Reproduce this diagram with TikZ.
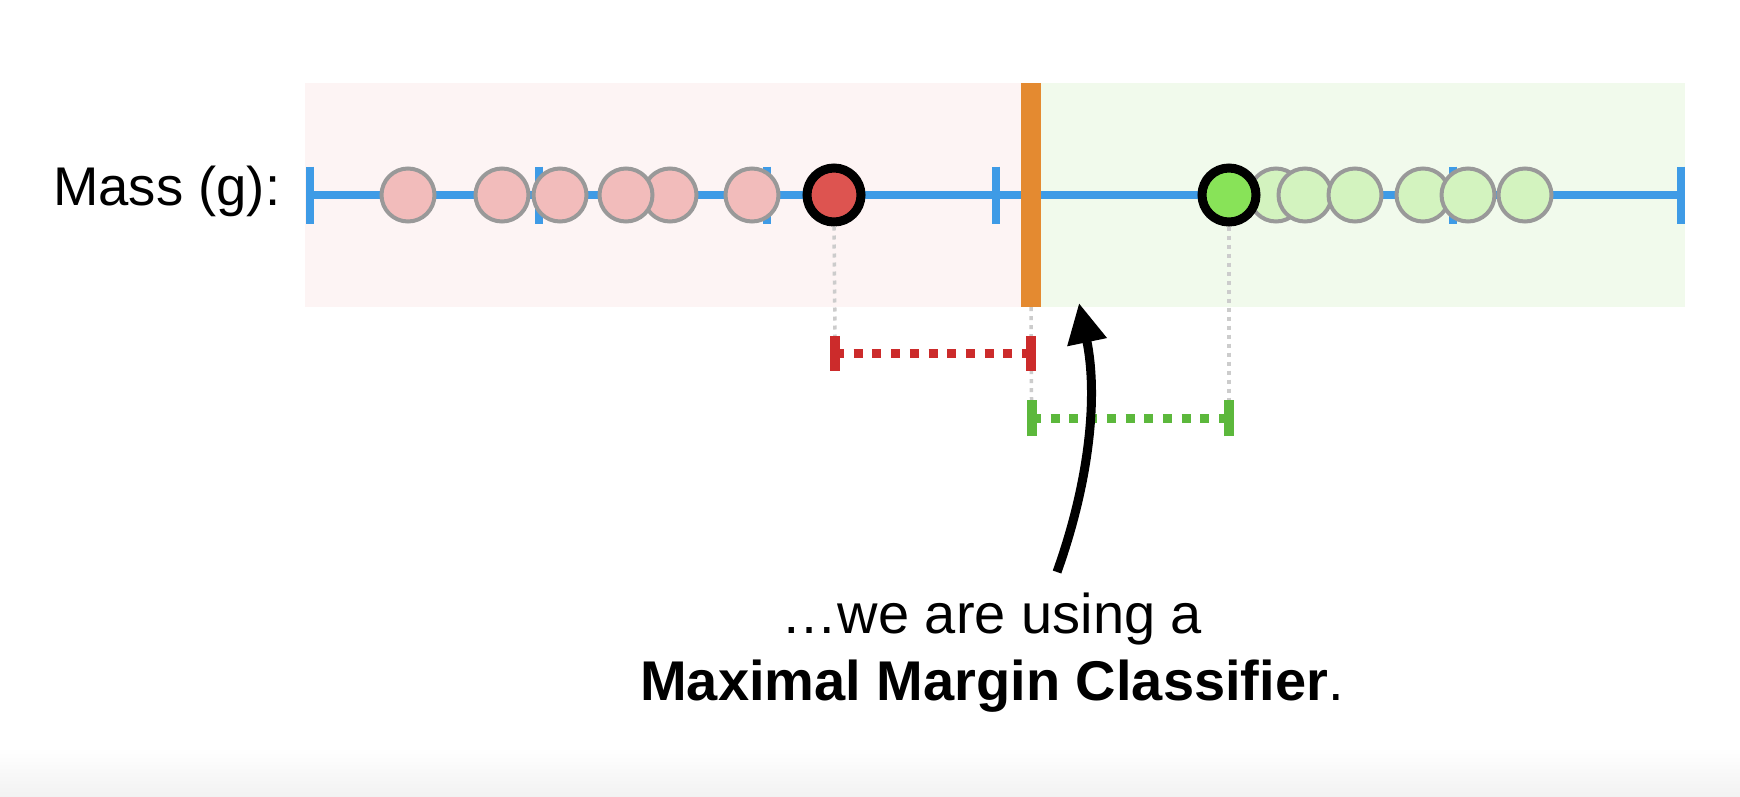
\documentclass[tikz,border=0pt]{standalone}
\usepackage{fontspec}
\setmainfont{Liberation Sans}
\usetikzlibrary{arrows.meta}
\definecolor{pinkbg}{HTML}{FDF4F4}
\definecolor{greenbg}{HTML}{F1FAEC}
\definecolor{axisblue}{HTML}{3E9BE6}
\definecolor{pinkpt}{HTML}{F2BCBB}
\definecolor{greenpt}{HTML}{D3F3BF}
\definecolor{redpt}{HTML}{DD5450}
\definecolor{greenhi}{HTML}{88E358}
\definecolor{ptgray}{HTML}{999999}
\definecolor{barorange}{HTML}{E48A30}
\definecolor{marginred}{HTML}{CC2B2B}
\definecolor{margingreen}{HTML}{5CB83C}
\definecolor{guidegray}{HTML}{CCCCCC}
\begin{document}
\begin{tikzpicture}[x=1pt,y=-1pt,
  axisline/.style={draw=axisblue, line width=8pt},
  pinkdot/.style={circle, draw=ptgray, fill=pinkpt, line width=4pt, minimum size=53pt, inner sep=0pt},
  greendot/.style={circle, draw=ptgray, fill=greenpt, line width=4pt, minimum size=53pt, inner sep=0pt},
  hidot/.style={circle, draw=black, line width=9pt, minimum size=54pt, inner sep=0pt},
  guide/.style={draw=guidegray, line width=3.5pt, dash pattern=on 4pt off 5pt},
  marginline/.style={line width=9pt, dash pattern=on 9pt off 9.7pt},
  margintick/.style={line width=10pt},
  bigtext/.style={font=\fontsize{56}{66}\selectfont, inner sep=0pt}
]
\useasboundingbox (0,0) rectangle (1740,796);
\fill[white] (0,0) rectangle (1740,796);
\shade[top color=white, bottom color=black!5] (0,748) rectangle (1740,796);

% background regions
\fill[pinkbg] (305,83) rectangle (1031,307);
\fill[greenbg] (1031,83) rectangle (1685,307);

% label
\node[bigtext, font=\fontsize{54.5}{64}\selectfont, anchor=base west] (mass) at (53,205) {Mass (g):};

% axis
\coordinate (axl) at (310,195);
\coordinate (axr) at (1681,195);
\draw[axisline] (axl) -- (axr);
\foreach \x in {310,538.5,767,995.5,1224,1452.5,1681}{
  \draw[axisline] (\x,166.5) -- (\x,223.5);
}

% pink points (left on top)
\foreach \x/\n in {752/p6,670/p5,626/p4,560/p3,502/p2,408/p1}{
  \node[pinkdot] (\n) at (\x,195) {};
}
% green points
\foreach \x/\n in {1276/g1,1305/g2,1355/g3,1423/g4,1468/g5,1525/g6}{
  \node[greendot] (\n) at (\x,195) {};
}

% threshold bar
\node[fill=barorange, minimum width=20pt, minimum height=224pt, inner sep=0pt] (bar) at (1031,195) {};

% highlighted points
\node[hidot, fill=redpt] (rp) at (834,195) {};
\node[hidot, fill=greenhi] (gp) at (1229,195) {};

% margin coordinates
\coordinate (rl) at (835,353);
\coordinate (rr) at (1031,353);
\coordinate (gl) at (1032,418);
\coordinate (gr) at (1229,418);

% guides
\draw[guide] (rp.south) -- (835,337);
\draw[guide] (bar.south) -- (1031.5,400);
\draw[guide] (gp.south) -- (1229,400);

% red margin
\draw[marginred, marginline] (rl) -- (rr);
\draw[marginred, margintick] ([yshift=-17.5pt]rl) -- ([yshift=17.5pt]rl);
\draw[marginred, margintick] ([yshift=-17.5pt]rr) -- ([yshift=17.5pt]rr);
% green margin
\draw[margingreen, marginline] (gl) -- (gr);
\draw[margingreen, margintick] ([yshift=-18pt]gl) -- ([yshift=18pt]gl);
\draw[margingreen, margintick] ([yshift=-18pt]gr) -- ([yshift=18pt]gr);

% arrow
\coordinate (as) at (1057,572);
\coordinate (at) at (1079,303);
\draw[line width=9pt, -{Triangle[length=40pt,width=38pt]}] (as) .. controls (1090,480) and (1098,395) .. (at);

% caption
\node[bigtext, anchor=base] (cap1) at (992,633) {…we are using a};
\node[bigtext, anchor=base] (cap2) at (992,700) {\textbf{Maximal Margin Classifier}.};
\end{tikzpicture}
\end{document}
